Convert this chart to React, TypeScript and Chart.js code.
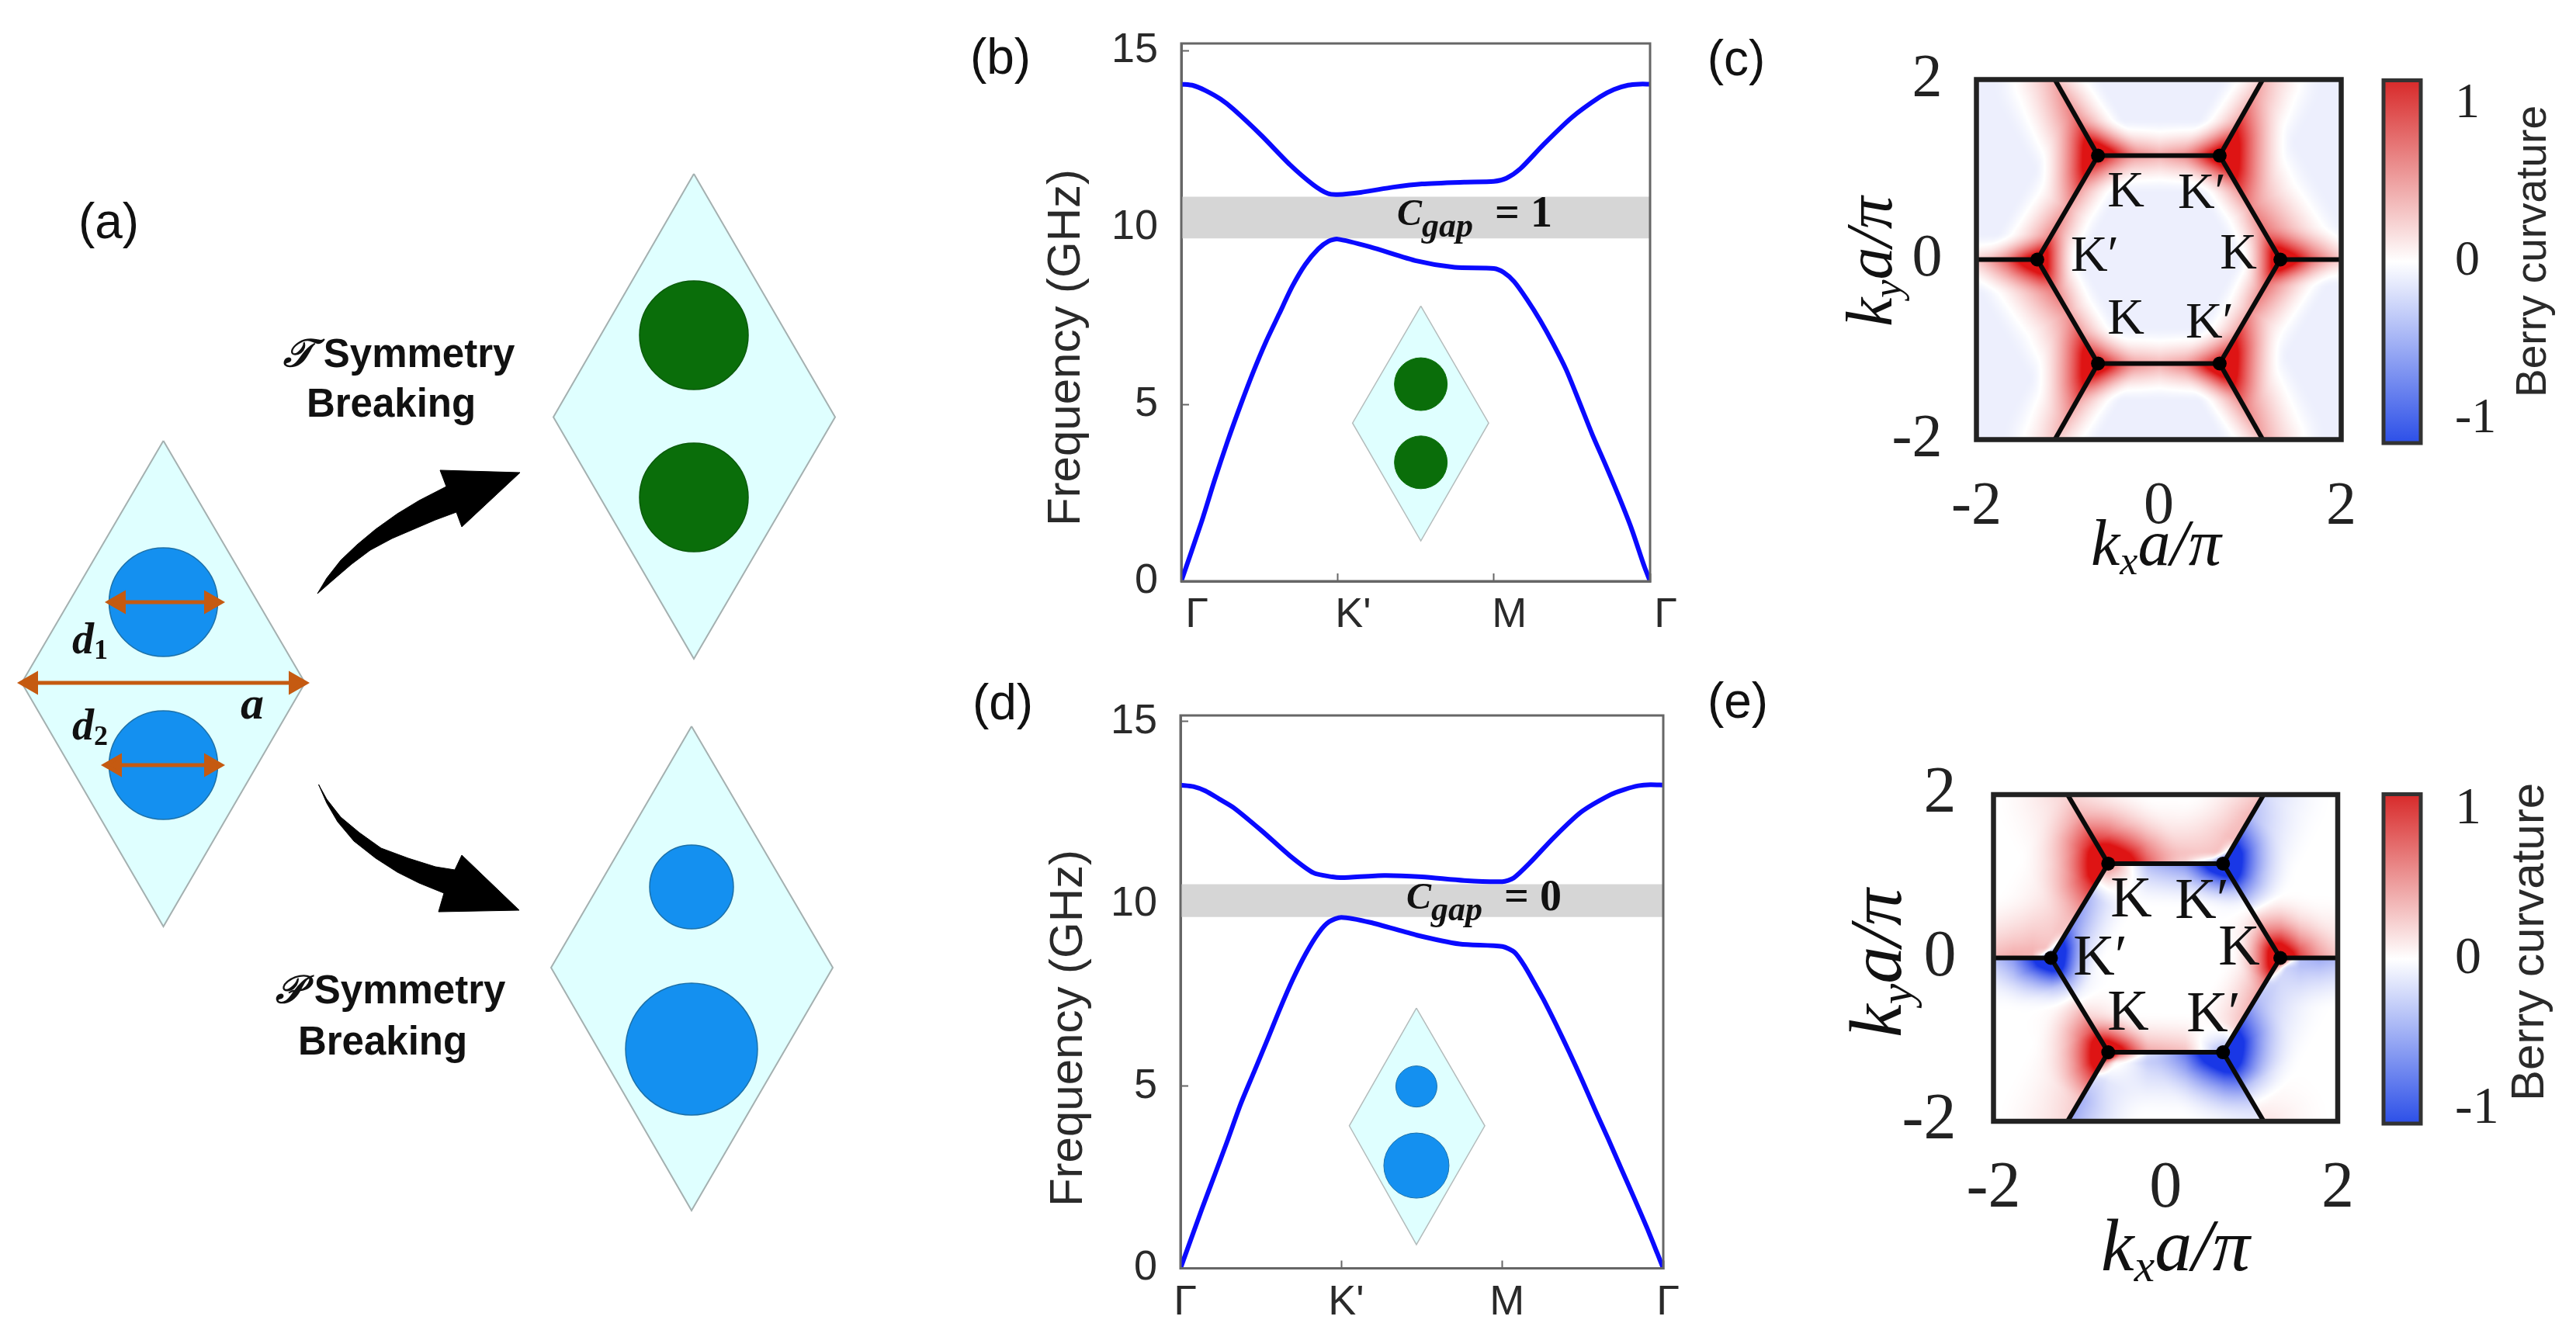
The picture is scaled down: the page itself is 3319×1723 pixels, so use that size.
import React, { useEffect, useRef } from "react";
import { Chart, registerables } from "chart.js";
Chart.register(...registerables);

/* ---------- data ---------- */
const bandTickLabels = ["Γ", "K'", "M", "Γ"];
const freqTicks = [0, 5, 10, 15];

const upperBX = [0, 0.077, 0.154, 0.25, 0.334, 0.515, 0.696, 0.846, 0.937, 1, 1.148, 1.358, 1.54, 1.81, 2, 2.08, 2.17, 2.32, 2.5, 2.68, 2.77, 2.86, 2.93, 3];
const upperBY = [14.05, 14.01, 13.87, 13.63, 13.34, 12.59, 11.77, 11.2, 10.96, 10.93, 10.99, 11.14, 11.23, 11.28, 11.3, 11.39, 11.66, 12.35, 13.11, 13.69, 13.9, 14.02, 14.05, 14.05];
const lowerBX = [0, 0.129, 0.212, 0.295, 0.378, 0.461, 0.544, 0.627, 0.71, 0.793, 0.876, 0.942, 1, 1.208, 1.51, 1.75, 2, 2.063, 2.13, 2.213, 2.297, 2.38, 2.463, 2.547, 2.63, 2.713, 2.797, 2.88, 2.963, 3];
const lowerBY = [0, 1.67, 2.84, 3.94, 4.96, 5.92, 6.79, 7.56, 8.33, 8.95, 9.39, 9.61, 9.67, 9.45, 9.05, 8.87, 8.84, 8.73, 8.47, 7.96, 7.37, 6.71, 5.98, 5.07, 4.15, 3.31, 2.43, 1.5, 0.42, 0];
const gapB = [9.69, 10.87];

const upperDX = [0, 0.08, 0.155, 0.24, 0.33, 0.506, 0.68, 0.827, 0.944, 1, 1.266, 1.5, 1.763, 2, 2.07, 2.17, 2.32, 2.49, 2.67, 2.76, 2.845, 2.92, 3];
const upperDY = [13.26, 13.22, 13.1, 12.88, 12.64, 12.0, 11.32, 10.85, 10.74, 10.72, 10.78, 10.74, 10.64, 10.61, 10.71, 11.12, 11.82, 12.52, 12.99, 13.14, 13.24, 13.27, 13.26];
const lowerDX = [0, 0.132, 0.213, 0.294, 0.375, 0.456, 0.536, 0.617, 0.698, 0.779, 0.859, 0.924, 1, 1.18, 1.47, 1.734, 2, 2.076, 2.14, 2.205, 2.254, 2.335, 2.415, 2.496, 2.577, 2.657, 2.738, 2.819, 2.899, 2.964, 3];
const lowerDY = [0, 1.62, 2.57, 3.53, 4.52, 5.38, 6.23, 7.11, 7.93, 8.64, 9.21, 9.51, 9.63, 9.49, 9.14, 8.9, 8.83, 8.67, 8.28, 7.78, 7.39, 6.68, 5.94, 5.16, 4.34, 3.56, 2.74, 1.93, 1.11, 0.4, 0];
const gapD = [9.64, 10.54];

const heatTicks = [-2, 0, 2];
const colorbarTicks = [-1, 0, 1];
const colorbarCategories = ["Berry curvature"];

/* hexagon corners and the points where its spokes leave the frame (k-space units) */
const V: Record<string, number[]> = {
  L: [-1.333, 0], TL: [-0.667, 1.155], TR: [0.667, 1.155], R: [1.333, 0], BR: [0.667, -1.155], BL: [-0.667, -1.155],
  Lo: [-2, 0], Ro: [2, 0], TLo: [-1.14, 2], TRo: [1.14, 2], BLo: [-1.14, -2], BRo: [1.14, -2],
  C1: [-2, 2], C2: [2, 2], C3: [2, -2], C4: [-2, -2],
};
const hexPath = ["L", "TL", "TR", "R", "BR", "BL", "L"];
const spokes = [["L", "Lo"], ["R", "Ro"], ["TL", "TLo"], ["TR", "TRo"], ["BL", "BLo"], ["BR", "BRo"]];
const regionOutlines: Record<string, string[]> = {
  center: ["L", "TL", "TR", "R", "BR", "BL"],
  top: ["TL", "TLo", "TRo", "TR"],
  bottom: ["BL", "BLo", "BRo", "BR"],
  ul: ["Lo", "C1", "TLo", "TL", "L"],
  ur: ["TRo", "C2", "Ro", "R", "TR"],
  ll: ["Lo", "C4", "BLo", "BL", "L"],
  lr: ["Ro", "C3", "BRo", "BR", "R"],
};
/* curvature next to each hexagon edge, per region: [from, to, values along the edge, reach in k units] */
type Edge = [string, string, number[], number];
const curvatureC: Record<string, Edge[]> = {
  center: [["L", "TL", [0.85, 0.45, 0.6], 0.42], ["TL", "TR", [0.6, 0.42, 0.75], 0.42], ["TR", "R", [0.75, 0.45, 0.85], 0.42], ["R", "BR", [0.85, 0.45, 0.55], 0.42], ["BR", "BL", [0.65, 0.42, 0.6], 0.42], ["BL", "L", [0.6, 0.45, 0.85], 0.42]],
  top: [["TL", "TLo", [0.95, 0.55, 0.35], 0.45], ["TL", "TR", [0.9, 0.5, 0.8], 0.42], ["TR", "TRo", [0.75, 0.45, 0.3], 0.42]],
  bottom: [["BL", "BLo", [0.8, 0.45, 0.3], 0.42], ["BL", "BR", [0.75, 0.45, 0.9], 0.42], ["BR", "BRo", [0.85, 0.55, 0.35], 0.42]],
  ul: [["Lo", "L", [0.3, 0.5, 0.85], 0.3], ["L", "TL", [0.7, 0.5, 0.9], 0.55], ["TL", "TLo", [0.95, 0.7, 0.45], 0.7]],
  ur: [["TRo", "TR", [0.4, 0.65, 0.95], 0.65], ["TR", "R", [0.95, 0.6, 0.8], 0.8], ["R", "Ro", [0.9, 0.5, 0.3], 0.38]],
  ll: [["Lo", "L", [0.3, 0.5, 0.9], 0.38], ["L", "BL", [0.85, 0.55, 0.9], 0.75], ["BL", "BLo", [0.95, 0.6, 0.35], 0.6]],
  lr: [["Ro", "R", [0.3, 0.5, 0.9], 0.3], ["R", "BR", [0.8, 0.55, 0.95], 0.6], ["BR", "BRo", [0.95, 0.65, 0.45], 0.7]],
};
const curvatureE: Record<string, Edge[]> = {
  center: [["L", "TL", [-0.95, -0.6, -0.35, 0.25], 0.55], ["TL", "TR", [0.3, -0.35, -0.55, -0.9], 0.55], ["TR", "R", [-0.85, -0.2, 0.05, 0.4, 0.9], 0.5], ["R", "BR", [0.95, 0.45, 0.35, 0.25, -0.2], 0.55], ["BR", "BL", [-0.25, 0.3, 0.4, 0.85], 0.5], ["BL", "L", [0.85, 0.35, 0.05, -0.3, -0.9], 0.5]],
  top: [["TL", "TLo", [0.95, 0.45, 0.28, 0.2], 0.85], ["TL", "TR", [0.9, 0.45, 0.32, 0.18], 0.85], ["TR", "TRo", [0.12, 0.28, 0.32, 0.28], 0.75], ["TR", "TL", [-1, -0.2, 0, 0], 0.16], ["TR", "TRo", [-1, -0.1, 0, 0], 0.16]],
  bottom: [["BL", "BR", [0.1, -0.35, -0.45, -0.9], 0.8], ["BL", "BLo", [0.1, -0.25, -0.4, -0.45], 0.75], ["BR", "BRo", [-0.9, -0.5, -0.25, -0.08], 0.8], ["BL", "BR", [1, 0.2, 0, 0], 0.14], ["BL", "BLo", [1, 0.1, 0, 0], 0.14]],
  ul: [["TL", "TLo", [0.95, 0.5, 0.3, 0.2], 0.9], ["L", "TL", [0.15, 0.25, 0.33, 0.5, 0.95], 0.95], ["Lo", "L", [0.3, 0.33, 0.3, 0.12], 0.8], ["L", "TL", [-1, -0.1, 0, 0, 0], 0.14], ["L", "Lo", [-1, -0.1, 0, 0], 0.14]],
  ur: [["TRo", "TR", [-0.2, -0.35, -0.6, -0.95], 0.8], ["TR", "R", [-0.95, -0.35, 0, 0.25, 0.7], 0.7], ["R", "Ro", [0.95, 0.45, 0.32, 0.25], 0.8]],
  ll: [["Lo", "L", [-0.3, -0.35, -0.55, -0.9], 0.65], ["L", "BL", [-0.8, -0.1, 0.15, 0.35, 0.95], 0.75], ["BL", "BLo", [0.95, 0.5, 0.25, 0.18], 0.85]],
  lr: [["Ro", "R", [-0.35, -0.4, -0.35, -0.1], 0.65], ["R", "BR", [-0.1, -0.25, -0.4, -0.6, -0.95], 0.85], ["BR", "BRo", [-0.95, -0.5, -0.1, 0.05, 0.12], 0.8], ["R", "BR", [1, 0.1, 0, 0, 0], 0.13], ["R", "Ro", [1, 0.1, 0, 0], 0.13]],
};

/* schematic (a): [x, y] outlines and circles on the page */
const cellA = [[210.5, 568], [393, 880], [210.5, 1194], [28, 880], [210.5, 568]];
const cellT = [[894, 224], [1076, 537.5], [894, 849], [713, 537.5], [894, 224]];
const cellP = [[891, 936], [1073, 1247], [891, 1560], [710, 1247], [891, 936]];
const holesA = [[210.5, 776, 70], [210.5, 986, 70]];
const holesT = [[894, 432, 70], [894, 641, 70]];
const holesP = [[891, 1143, 54], [891, 1352, 85]];
const arrowUp = [[409, 765], [421, 745], [439, 722], [460, 702], [484, 682], [512, 662], [540, 645], [575, 627], [567, 606], [670, 609], [595, 679], [588, 660], [561, 670], [533, 682], [505, 694], [477, 709], [453, 727], [432, 745], [409, 765]];
const arrowDown = [[410.5, 1011], [421, 1030], [439, 1053], [463, 1073], [491, 1093], [526, 1106], [561, 1117], [586, 1121], [595, 1102], [669, 1173], [565, 1175], [572, 1151], [540, 1138], [512, 1124], [484, 1106], [456, 1084], [435, 1059], [421, 1035], [410.5, 1011]];
const spanA = [[40, 880], [381, 880]];
const spanD1 = [[153, 776], [272, 776]];
const spanD2 = [[148, 986], [272, 986]];

/* insets in panels (b) and (d), in band-plot units */
const insetCellB = [[1.533, 7.78], [1.967, 4.47], [1.533, 1.14], [1.096, 4.47], [1.533, 7.78]];
const insetHolesB = [[1.533, 5.57, 34], [1.533, 3.36, 34]];
const insetCellD = [[1.466, 7.14], [1.891, 3.91], [1.466, 0.65], [1.049, 3.91], [1.466, 7.14]];
const insetHolesD = [[1.466, 4.99, 26.5], [1.466, 2.82, 42]];

/* ---------- helpers ---------- */
const SANS = '"Liberation Sans"';
const SERIF = '"Liberation Serif"';
const xy = (xs: number[], ys: number[]) => xs.map((x, i) => ({ x, y: ys[i] }));
const pts = (a: number[][]) => a.map(([x, y]) => ({ x, y }));

type Run = { t: string; font: string; dy?: number };
type Note = { runs: Run[]; x: number; y: number; rotate?: number; align?: string; color?: string };
const note = (t: string, font: string, x: number, y: number, extra: any = {}): Note => ({ runs: [{ t, font }], x, y, ...extra });

function notesPlugin(notes: Note[], ox: number, oy: number) {
  return {
    id: "notes",
    afterDraw(chart: any) {
      const ctx = chart.ctx;
      for (const n of notes) {
        ctx.save();
        ctx.translate(n.x - ox, n.y - oy);
        if (n.rotate) ctx.rotate(n.rotate);
        ctx.textBaseline = "middle";
        ctx.textAlign = "left";
        ctx.fillStyle = n.color || "#111";
        let total = 0;
        for (const r of n.runs) {
          ctx.font = r.font;
          total += ctx.measureText(r.t).width;
        }
        let cx = n.align === "left" ? 0 : -total / 2;
        for (const r of n.runs) {
          ctx.font = r.font;
          ctx.fillText(r.t, cx, r.dy || 0);
          cx += ctx.measureText(r.t).width;
        }
        ctx.restore();
      }
    },
  };
}

function framePlugin(color: string, width: number) {
  return {
    id: "frame",
    afterDatasetsDraw(chart: any) {
      const { ctx, chartArea: a } = chart;
      ctx.save();
      ctx.strokeStyle = color;
      ctx.lineWidth = width;
      ctx.strokeRect(a.left, a.top, a.right - a.left, a.bottom - a.top);
      ctx.restore();
    },
  };
}

/* ---------- curvature field drawn from the edge values above ---------- */
const RED = [222, 20, 20];
const BLUE = [25, 55, 230];
const FALLOFF = 1.7;

function inside(poly: number[][], x: number, y: number) {
  let hit = false;
  for (let i = 0, j = poly.length - 1; i < poly.length; j = i++) {
    const [xi, yi] = poly[i];
    const [xj, yj] = poly[j];
    if (yi > y !== yj > y && x < ((xj - xi) * (y - yi)) / (yj - yi) + xi) hit = !hit;
  }
  return hit;
}

function along(vals: number[], t: number) {
  const f = t * (vals.length - 1);
  const i = Math.min(Math.floor(f), vals.length - 2);
  return vals[i] + (vals[i + 1] - vals[i]) * (f - i);
}

function fieldPlugin(field: Record<string, Edge[]>, offset: number) {
  return {
    id: "field",
    beforeDatasetsDraw(chart: any) {
      const { ctx, chartArea: a, scales } = chart;
      const w = Math.round(a.right - a.left);
      const h = Math.round(a.bottom - a.top);
      const img = ctx.createImageData(w, h);
      const regions = Object.keys(regionOutlines).map((k) => ({ poly: regionOutlines[k].map((n) => V[n]), edges: field[k] }));
      let last = regions[0];
      for (let j = 0; j < h; j++) {
        const ky = scales.y.getValueForPixel(a.top + j);
        for (let i = 0; i < w; i++) {
          const kx = scales.x.getValueForPixel(a.left + i);
          let region = last;
          if (!inside(region.poly, kx, ky)) {
            region = regions.find((r) => inside(r.poly, kx, ky)) || last;
            last = region;
          }
          let v = offset;
          for (const [from, to, vals, reach] of region.edges) {
            const [ax, ay] = V[from];
            const dx = V[to][0] - ax;
            const dy = V[to][1] - ay;
            const t = Math.max(0, Math.min(1, ((kx - ax) * dx + (ky - ay) * dy) / (dx * dx + dy * dy)));
            const d = Math.hypot(kx - ax - t * dx, ky - ay - t * dy);
            if (d < reach) v += along(vals, t) * Math.pow(1 - d / reach, FALLOFF);
          }
          v = Math.max(-1, Math.min(1, v));
          const c = v >= 0 ? RED : BLUE;
          const m = Math.abs(v);
          const o = (j * w + i) * 4;
          img.data[o] = 255 + (c[0] - 255) * m;
          img.data[o + 1] = 255 + (c[1] - 255) * m;
          img.data[o + 2] = 255 + (c[2] - 255) * m;
          img.data[o + 3] = 255;
        }
      }
      ctx.putImageData(img, Math.round(a.left), Math.round(a.top));
    },
  };
}

const base = (padding: any) => ({
  responsive: false,
  devicePixelRatio: 1,
  animation: false as const,
  layout: { padding, autoPadding: false },
  plugins: { legend: { display: false }, tooltip: { enabled: false }, title: { display: false } },
  events: [] as string[],
});

const noOverhang = (s: any) => {
  s.paddingTop = 0;
  s.paddingBottom = 0;
  s.paddingLeft = 0;
  s.paddingRight = 0;
};

/* ---------- band diagrams ---------- */
function bandConfig(o: any) {
  const line = (data: any) => ({ data, showLine: true, borderColor: "#0a0aff", borderWidth: 6, pointRadius: 0, tension: 0.25 });
  const gapEdge = (v: number, fill: any) => ({ data: [{ x: 0, y: v }, { x: 3, y: v }], showLine: true, borderWidth: 0, borderColor: "rgba(0,0,0,0)", pointRadius: 0, fill, backgroundColor: "#d6d6d6" });
  return {
    type: "scatter",
    data: {
      datasets: [
        line(o.upper),
        line(o.lower),
        { data: o.holes.map(([x, y]: number[]) => ({ x, y })), pointRadius: o.holes.map((h: number[]) => h[2]), pointBackgroundColor: o.holeColor, pointBorderColor: o.holeEdge, pointBorderWidth: 1 },
        { data: pts(o.cell), showLine: true, fill: "shape", backgroundColor: "#dfffff", borderColor: "#b4bcbc", borderWidth: 1.5, pointRadius: 0 },
        gapEdge(o.gap[1], "+1"),
        gapEdge(o.gap[0], false),
      ],
    },
    options: {
      ...base({ top: o.area.top, right: o.rect.w - o.area.right, left: 0, bottom: 0 }),
      scales: {
        x: {
          type: "linear", min: 0, max: 3,
          afterBuildTicks: (s: any) => { s.ticks = [0, 1, 2, 3].map((value) => ({ value })); },
          afterFit: (s: any) => { s.height = o.rect.h - o.area.bottom; noOverhang(s); },
          grid: { drawOnChartArea: false, drawTicks: true, tickLength: -10, tickWidth: 2, color: "#666" },
          border: { display: true, color: "#666", width: 3 },
          ticks: { callback: (v: number) => bandTickLabels[v], font: { family: SANS, size: 54 }, color: "#2a2a2a", padding: 22, labelOffset: o.labelOffset, maxRotation: 0, autoSkip: false },
        },
        y: {
          type: "linear", min: 0, max: o.ymax,
          afterBuildTicks: (s: any) => { s.ticks = freqTicks.map((value) => ({ value })); },
          afterFit: (s: any) => { s.width = o.area.left; noOverhang(s); },
          grid: { drawOnChartArea: false, drawTicks: true, tickLength: -10, tickWidth: 2, color: "#666" },
          border: { display: true, color: "#666", width: 3 },
          ticks: { font: { family: SANS, size: 54 }, color: "#2a2a2a", padding: 40 },
        },
      },
    },
    plugins: [framePlugin("#666", 3), notesPlugin(o.notes, o.rect.x, o.rect.y)],
  };
}

/* ---------- curvature maps ---------- */
function heatConfig(o: any) {
  const chain = hexPath.map((n) => ({ x: V[n][0], y: V[n][1] }));
  const corners = hexPath.slice(0, 6).map((n) => ({ x: V[n][0], y: V[n][1] }));
  return {
    type: "scatter",
    data: {
      datasets: [
        { data: corners, pointRadius: 9, pointBackgroundColor: "#000", pointBorderWidth: 0 },
        { data: chain, showLine: true, borderColor: "#0a0a0a", borderWidth: 6, pointRadius: 0 },
        ...spokes.map(([a, b]) => ({ data: [{ x: V[a][0], y: V[a][1] }, { x: V[b][0], y: V[b][1] }], showLine: true, borderColor: "#0a0a0a", borderWidth: 6, pointRadius: 0 })),
      ],
    },
    options: {
      ...base({ top: o.area.top, right: o.rect.w - o.area.right, left: 0, bottom: 0 }),
      scales: {
        x: {
          type: "linear", min: -2, max: 2,
          afterBuildTicks: (s: any) => { s.ticks = heatTicks.map((value) => ({ value })); },
          afterFit: (s: any) => { s.height = o.rect.h - o.area.bottom; noOverhang(s); },
          grid: { display: false }, border: { display: false },
          ticks: { font: { family: SERIF, size: o.tickSize }, color: "#222", padding: o.padX, maxRotation: 0, autoSkip: false },
        },
        y: {
          type: "linear", min: -2, max: 2,
          afterBuildTicks: (s: any) => { s.ticks = heatTicks.map((value) => ({ value })); },
          afterFit: (s: any) => { s.width = o.area.left; noOverhang(s); },
          grid: { display: false }, border: { display: false },
          ticks: { font: { family: SERIF, size: o.tickSize }, color: "#222", padding: o.padY },
        },
      },
    },
    plugins: [fieldPlugin(o.field, o.offset), framePlugin("#222", 6.5), notesPlugin(o.notes, o.rect.x, o.rect.y)],
  };
}

function colorbarConfig(o: any) {
  return {
    type: "bar",
    data: {
      labels: colorbarCategories,
      datasets: [{
        data: [[-o.range, o.range]],
        barPercentage: 1,
        categoryPercentage: 1,
        backgroundColor: (c: any) => {
          const a = c.chart.chartArea;
          if (!a) return "#fff";
          const g = c.chart.ctx.createLinearGradient(0, a.top, 0, a.bottom);
          g.addColorStop(0, "#d82a2a");
          g.addColorStop(0.5, "#ffffff");
          g.addColorStop(1, "#2c4fe8");
          return g;
        },
      }],
    },
    options: {
      ...base({ top: o.area.top, right: 0, left: o.area.left, bottom: o.rect.h - o.area.bottom }),
      scales: {
        x: { display: false },
        y: {
          position: "right", min: -o.range, max: o.range,
          afterBuildTicks: (s: any) => { s.ticks = colorbarTicks.map((value) => ({ value })); },
          afterFit: (s: any) => { s.width = o.rect.w - o.area.right; noOverhang(s); },
          grid: { display: false }, border: { display: false },
          ticks: { font: { family: SERIF, size: o.tickSize }, color: "#222", padding: 36 },
        },
      },
    },
    plugins: [framePlugin("#333", 5), notesPlugin(o.notes, o.rect.x, o.rect.y)],
  };
}

/* ---------- schematic ---------- */
function schematicConfig(o: any) {
  const holes = (a: number[][], fill: string, edge: string) => ({
    data: a.map(([x, y]) => ({ x, y })), pointRadius: a.map((h) => h[2]), pointBackgroundColor: fill, pointBorderColor: edge, pointBorderWidth: 1.5,
  });
  const cell = (a: number[][]) => ({ data: pts(a), showLine: true, fill: "shape", backgroundColor: "#dfffff", borderColor: "#a4b0b0", borderWidth: 2, pointRadius: 0 });
  const span = (a: number[][]) => ({ data: pts(a), showLine: true, borderColor: "#c55a11", borderWidth: 5, pointStyle: "triangle", pointRotation: [-90, 90], pointRadius: 13, pointBackgroundColor: "#c55a11", pointBorderColor: "#c55a11" });
  const bent = (a: number[][]) => ({ data: pts(a), showLine: true, fill: "shape", backgroundColor: "#000", borderColor: "#000", borderWidth: 1, pointRadius: 0, tension: 0 });
  return {
    type: "scatter",
    data: {
      datasets: [
        span(spanA), span(spanD1), span(spanD2),
        holes(holesA, "#1490f0", "#1c70a8"), holes(holesT, "#0a6e0a", "#0a5a0a"), holes(holesP, "#1490f0", "#1c70a8"),
        cell(cellA), cell(cellT), cell(cellP),
        bent(arrowUp), bent(arrowDown),
      ],
    },
    options: {
      ...base(0),
      scales: {
        x: { type: "linear", display: false, min: o.rect.x, max: o.rect.x + o.rect.w },
        y: { type: "linear", display: false, reverse: true, min: o.rect.y, max: o.rect.y + o.rect.h },
      },
    },
    plugins: [notesPlugin(o.notes, o.rect.x, o.rect.y)],
  };
}

/* ---------- layout ---------- */
const panelFont = `64px ${SANS}`;
const bold51 = `bold 51px ${SANS}`;
const biSerif = (s: number) => `italic bold ${s}px ${SERIF}`;
const iSerif = (s: number) => `italic ${s}px ${SERIF}`;
const kFont = (s: number) => `${s}px ${SERIF}`;

const kLabel = (sub: string, size: number, x: number, y: number, rotate?: number): Note => ({
  runs: [
    { t: "k", font: iSerif(size) },
    { t: sub, font: iSerif(size * 0.62), dy: size * 0.24 },
    { t: "a/π", font: iSerif(size) },
  ],
  x, y, rotate,
});
const gapLabel = (x: number, y: number, tail: string): Note => ({
  runs: [
    { t: "C", font: biSerif(48) },
    { t: "gap", font: biSerif(44), dy: 16 },
    { t: `  = ${tail}`, font: `bold 56px ${SERIF}` },
  ],
  x, y, align: "left",
});
const dLabel = (sub: string, x: number, y: number): Note => ({
  runs: [{ t: "d", font: biSerif(56) }, { t: sub, font: `bold 36px ${SERIF}`, dy: 12 }],
  x, y, align: "left",
});

const panels: any[] = [
  {
    kind: "schematic",
    rect: { x: 0, y: 200, w: 1200, h: 1400 },
    notes: [
      note("(a)", panelFont, 140, 289),
      { runs: [{ t: "𝒯", font: biSerif(50) }, { t: " ", font: bold51 }, { t: "Symmetry", font: bold51 }], x: 514, y: 459 },
      note("Breaking", bold51, 504, 523),
      { runs: [{ t: "𝒫", font: biSerif(50) }, { t: " ", font: bold51 }, { t: "Symmetry", font: bold51 }], x: 503, y: 1279 },
      note("Breaking", bold51, 493, 1345),
      dLabel("1", 93, 828),
      dLabel("2", 93, 939),
      note("a", biSerif(60), 325, 910),
    ],
  },
  {
    kind: "band",
    rect: { x: 1240, y: 0, w: 950, h: 840 },
    area: { left: 282, right: 886, top: 56, bottom: 749 },
    ymax: 15.2, labelOffset: 20,
    upper: xy(upperBX, upperBY), lower: xy(lowerBX, lowerBY), gap: gapB,
    cell: insetCellB, holes: insetHolesB, holeColor: "#0a6e0a", holeEdge: "#0a6e0a",
    notes: [
      note("(b)", panelFont, 1289, 77),
      note("Frequency (GHz)", `60px ${SANS}`, 1374, 448, { rotate: -Math.PI / 2, color: "#2a2a2a" }),
      gapLabel(1800, 278, "1"),
    ],
  },
  {
    kind: "band",
    rect: { x: 1240, y: 860, w: 950, h: 863 },
    area: { left: 281, right: 903, top: 62, bottom: 774.5 },
    ymax: 15.17, labelOffset: 6,
    upper: xy(upperDX, upperDY), lower: xy(lowerDX, lowerDY), gap: gapD,
    cell: insetCellD, holes: insetHolesD, holeColor: "#1490f0", holeEdge: "#1c70a8",
    notes: [
      note("(d)", panelFont, 1292, 909),
      note("Frequency (GHz)", `60px ${SANS}`, 1377, 1325, { rotate: -Math.PI / 2, color: "#2a2a2a" }),
      gapLabel(1812, 1159, "0"),
    ],
  },
  {
    kind: "heat",
    rect: { x: 2200, y: 0, w: 860, h: 800 },
    area: { left: 346.5, right: 816.5, top: 102.5, bottom: 566.5 },
    field: curvatureC, offset: -0.08, tickSize: 78, padX: 32, padY: 36,
    notes: [
      note("(c)", panelFont, 2237, 79),
      kLabel("x", 84, 2778, 706),
      kLabel("y", 84, 2415, 337, -Math.PI / 2),
      note("K", kFont(66), 2739, 249), note("K′", kFont(66), 2837, 251), note("K′", kFont(66), 2699, 332),
      note("K", kFont(66), 2884, 329), note("K", kFont(66), 2739, 413), note("K′", kFont(66), 2847, 418),
    ],
  },
  {
    kind: "heat",
    rect: { x: 2200, y: 860, w: 860, h: 840 },
    area: { left: 368.5, right: 812, top: 164, bottom: 585 },
    field: curvatureE, offset: 0, tickSize: 84, padX: 30, padY: 40,
    notes: [
      note("(e)", panelFont, 2239, 907),
      kLabel("x", 96, 2803, 1612),
      kLabel("y", 96, 2424, 1241, -Math.PI / 2),
      note("K", kFont(74), 2746, 1162), note("K′", kFont(74), 2837, 1164), note("K′", kFont(74), 2706, 1237),
      note("K", kFont(74), 2885, 1224), note("K", kFont(74), 2742, 1308), note("K′", kFont(74), 2852, 1310),
    ],
  },
  {
    kind: "bar",
    rect: { x: 3060, y: 60, w: 259, h: 560 },
    area: { left: 11, right: 59, top: 43.5, bottom: 511 },
    range: 1.15, tickSize: 64,
    notes: [note("Berry curvature", `55px ${SANS}`, 3265, 324, { rotate: -Math.PI / 2, color: "#2a2a2a" })],
  },
  {
    kind: "bar",
    rect: { x: 3060, y: 980, w: 259, h: 520 },
    area: { left: 11, right: 59, top: 43.5, bottom: 468 },
    range: 1.1, tickSize: 68,
    notes: [note("Berry curvature", `60px ${SANS}`, 3260, 1214, { rotate: -Math.PI / 2, color: "#2a2a2a" })],
  },
];

function buildConfig(p: any) {
  if (p.kind === "band") return bandConfig(p);
  if (p.kind === "heat") return heatConfig(p);
  if (p.kind === "bar") return colorbarConfig(p);
  return schematicConfig(p);
}

function Panel({ spec }: { spec: any }) {
  const ref = useRef<HTMLCanvasElement>(null);
  useEffect(() => {
    const chart = new Chart(ref.current as any, buildConfig(spec) as any);
    return () => chart.destroy();
  }, [spec]);
  const { x, y, w, h } = spec.rect;
  return <canvas ref={ref} width={w} height={h} style={{ position: "absolute", left: x, top: y, width: w, height: h }} />;
}

export default function App() {
  return (
    <div style={{ position: "absolute", left: 0, top: 0, width: 3319, height: 1723, background: "#fff", overflow: "hidden" }}>
      {panels.map((p, i) => <Panel key={i} spec={p} />)}
    </div>
  );
}
